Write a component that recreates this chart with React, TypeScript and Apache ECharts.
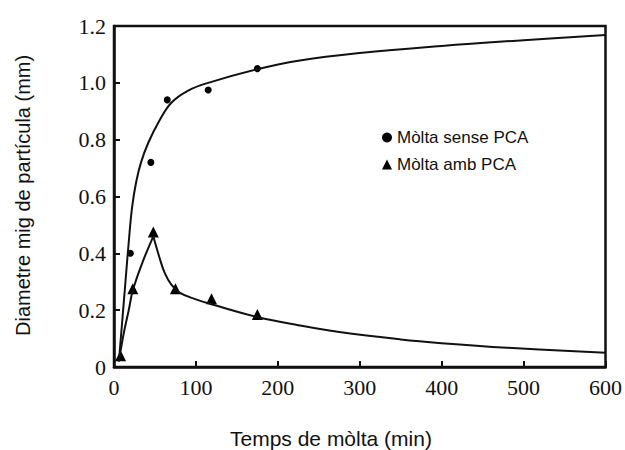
import React, { useEffect, useRef } from "react";
import * as echarts from "echarts";

// Measured points
const sensePoints: [number, number][] = [
  [20, 0.4], [45, 0.72], [65, 0.94], [115, 0.975], [175, 1.05],
];
const ambPoints: [number, number][] = [
  [8, 0.04], [23, 0.275], [48, 0.475], [75, 0.275], [119, 0.24], [175, 0.185],
];
// Fitted curves
const senseCurve: [number, number][] = [
  [6, 0.02], [10, 0.16], [14, 0.3], [18, 0.44], [22, 0.56], [27, 0.65], [33, 0.72],
  [42, 0.79], [55, 0.865], [70, 0.93], [90, 0.972], [115, 1.0], [175, 1.048],
  [225, 1.078], [300, 1.105], [400, 1.13], [500, 1.15], [600, 1.168],
];
const ambCurveRise: [number, number][] = [
  [6, 0.02], [12, 0.12], [18, 0.2], [23, 0.27], [35, 0.37], [48, 0.46],
];
const ambCurveFall: [number, number][] = [
  [48, 0.46], [55, 0.39], [62, 0.33], [70, 0.29], [80, 0.262], [100, 0.238],
  [120, 0.22], [175, 0.176], [225, 0.147], [275, 0.123], [350, 0.097],
  [400, 0.084], [480, 0.068], [600, 0.05],
];

const seriesNames = ["Mòlta sense PCA", "Mòlta amb PCA"];
const xTitle = "Temps de mòlta (min)";
const yTitle = "Diametre mig de partícula (mm)";

export default function App() {
  const ref = useRef<HTMLDivElement>(null);
  useEffect(() => {
    if (!ref.current) return;
    const chart = echarts.init(ref.current, undefined, { renderer: "svg" });
    const serif = "Liberation Serif";
    const sans = "Liberation Sans";
    const lineStyle = { color: "#111", width: 2 };
    const markStyle = { color: "#000", opacity: 1 };
    chart.setOption({
      animation: false,
      backgroundColor: "#fff",
      grid: {
        left: 114, right: 15, top: 26, bottom: 83,
        show: true, borderColor: "#111", borderWidth: 2.5,
      },
      legend: {
        orient: "vertical",
        left: 377, top: 124,
        itemGap: 10,
        itemWidth: 10, itemHeight: 10,
        data: [
          { name: seriesNames[0], icon: "circle", itemStyle: markStyle },
          { name: seriesNames[1], icon: "triangle", itemStyle: markStyle },
        ],
        textStyle: { fontFamily: sans, fontSize: 17, color: "#111" },
      },
      xAxis: {
        type: "value", min: 0, max: 600, interval: 100,
        axisLine: { show: true, lineStyle: { color: "#111", width: 2.5 } },
        axisTick: { inside: true, length: 6, lineStyle: { color: "#111", width: 2 } },
        axisLabel: { fontFamily: serif, fontSize: 22, color: "#111", margin: 9 },
        splitLine: { show: false },
      },
      yAxis: {
        type: "value", min: 0, max: 1.2, interval: 0.2,
        axisLine: { show: true, lineStyle: { color: "#111", width: 2.5 } },
        axisTick: { inside: true, length: 6, lineStyle: { color: "#111", width: 2 } },
        axisLabel: {
          fontFamily: serif, fontSize: 22, color: "#111", margin: 8,
          formatter: (v: number) => (v === 0 ? "0" : v.toFixed(1)),
        },
        splitLine: { show: false },
      },
      graphic: [
        {
          type: "text", left: 230, top: 428,
          style: { text: xTitle, fontFamily: sans, fontSize: 21, fill: "#111" },
        },
        {
          type: "text", x: 13, y: 336, rotation: Math.PI / 2,
          style: { text: yTitle, fontFamily: sans, fontSize: 20, fill: "#111", align: "left", verticalAlign: "top" },
        },
      ],
      series: [
        {
          type: "line", data: senseCurve, smooth: 0.4, showSymbol: false,
          lineStyle, silent: true,
        },
        {
          type: "line", data: ambCurveRise, smooth: 0.4, showSymbol: false,
          lineStyle, silent: true,
        },
        {
          type: "line", data: ambCurveFall, smooth: 0.4, showSymbol: false,
          lineStyle, silent: true,
        },
        {
          name: seriesNames[0], type: "scatter", data: sensePoints,
          symbol: "circle", symbolSize: 7, itemStyle: markStyle,
        },
        {
          name: seriesNames[1], type: "scatter", data: ambPoints,
          symbol: "triangle", symbolSize: 11, itemStyle: markStyle,
        },
      ],
    });
    return () => chart.dispose();
  }, []);
  return (
    <div
      ref={ref}
      style={{ position: "fixed", left: 0, top: 0, width: 625, height: 450 }}
    />
  );
}
